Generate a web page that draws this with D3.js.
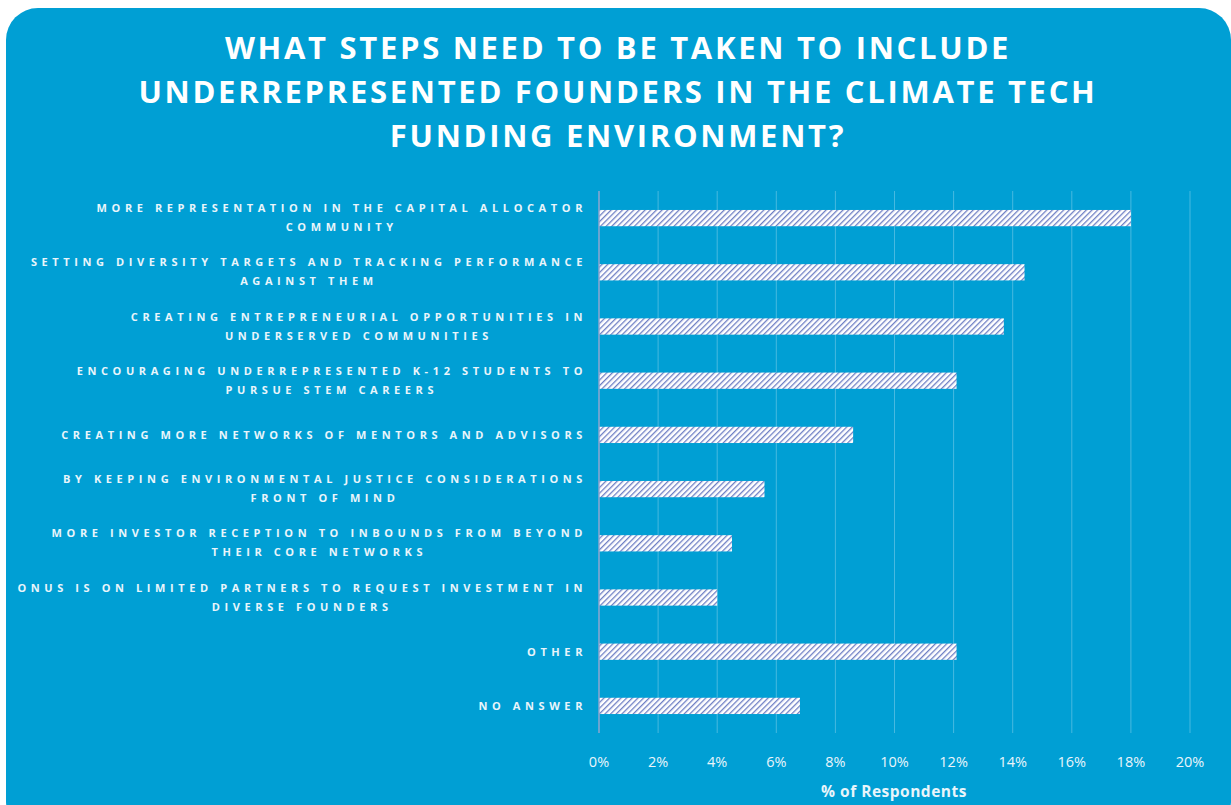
<!DOCTYPE html>
<html>
<head>
<meta charset="utf-8">
<script src="https://cdn.jsdelivr.net/npm/d3@7/dist/d3.min.js"></script>
<style>
  html, body { margin: 0; padding: 0; background: #ffffff; }
  svg { display: block; }
</style>
</head>
<body>
<svg id="chart" width="1231" height="805"></svg>
<script>
// Survey answers (top to bottom) and share of respondents, in percent
const categories = [
  ["MORE REPRESENTATION IN THE CAPITAL ALLOCATOR", "COMMUNITY"],
  ["SETTING DIVERSITY TARGETS AND TRACKING PERFORMANCE", "AGAINST THEM"],
  ["CREATING ENTREPRENEURIAL OPPORTUNITIES IN", "UNDERSERVED COMMUNITIES"],
  ["ENCOURAGING UNDERREPRESENTED K-12 STUDENTS TO", "PURSUE STEM CAREERS"],
  ["CREATING MORE NETWORKS OF MENTORS AND ADVISORS"],
  ["BY KEEPING ENVIRONMENTAL JUSTICE CONSIDERATIONS", "FRONT OF MIND"],
  ["MORE INVESTOR RECEPTION TO INBOUNDS FROM BEYOND", "THEIR CORE NETWORKS"],
  ["ONUS IS ON LIMITED PARTNERS TO REQUEST INVESTMENT IN", "DIVERSE FOUNDERS"],
  ["OTHER"],
  ["NO ANSWER"]
];
const values = [18.0, 14.4, 13.7, 12.1, 8.6, 5.6, 4.5, 4.0, 12.1, 6.8];
const tickValues = [0, 2, 4, 6, 8, 10, 12, 14, 16, 18, 20];
const titleLines = [
  "WHAT STEPS NEED TO BE TAKEN TO INCLUDE",
  "UNDERREPRESENTED FOUNDERS IN THE CLIMATE TECH",
  "FUNDING ENVIRONMENT?"
];
const axisTitle = "% of Respondents";

const svg = d3.select("#chart");
const W = 1231, H = 805;
const bg = "#009fd4";
const textCol = "#e9f5fb";

// Rounded panel
svg.append("rect")
  .attr("x", 6).attr("y", 8)
  .attr("width", W - 6).attr("height", H + 20)
  .attr("rx", 32).attr("ry", 32)
  .attr("fill", bg);

// Diagonal hatch for the bars
const defs = svg.append("defs");
const pat = defs.append("pattern")
  .attr("id", "hatch")
  .attr("patternUnits", "userSpaceOnUse")
  .attr("width", 4).attr("height", 4)
  .attr("patternTransform", "rotate(45)");
pat.append("rect").attr("width", 4).attr("height", 4).attr("fill", "#ffffff");
pat.append("rect").attr("x", 0).attr("y", 0).attr("width", 1.3).attr("height", 4).attr("fill", "#6e7fc4");

// Title
svg.append("g")
  .selectAll("text")
  .data(titleLines)
  .join("text")
  .attr("x", 618)
  .attr("y", (d, i) => 59 + i * 44)
  .attr("text-anchor", "middle")
  .attr("font-family", "'Open Sans', sans-serif")
  .attr("font-weight", 700)
  .attr("font-size", 31)
  .attr("letter-spacing", 2.7)
  .attr("fill", "#ffffff")
  .text(d => d);

// Plot area
const margin = { left: 599, right: 1190, top: 191, bottom: 733 };
const x = d3.scaleLinear().domain([0, 20]).range([margin.left, margin.right]);
const y = d3.scaleBand()
  .domain(d3.range(categories.length))
  .range([margin.top, margin.bottom])
  .paddingInner(0.7).paddingOuter(0.35);

// Vertical gridlines
svg.append("g")
  .selectAll("line")
  .data(tickValues.slice(1))
  .join("line")
  .attr("x1", d => x(d)).attr("x2", d => x(d))
  .attr("y1", margin.top).attr("y2", margin.bottom)
  .attr("stroke", "#ffffff").attr("stroke-opacity", 0.28)
  .attr("stroke-width", 1);

// Bars
svg.append("g")
  .selectAll("rect")
  .data(values)
  .join("rect")
  .attr("x", x(0))
  .attr("y", (d, i) => y(i))
  .attr("width", d => x(d) - x(0))
  .attr("height", y.bandwidth())
  .attr("fill", "url(#hatch)");

// Category axis line
svg.append("line")
  .attr("x1", x(0)).attr("x2", x(0))
  .attr("y1", margin.top).attr("y2", margin.bottom)
  .attr("stroke", "#8ea6cf").attr("stroke-width", 1.5);

// Category labels, right-aligned against the axis
const labelRight = 587;
const lab = svg.append("g")
  .selectAll("text")
  .data(categories)
  .join("text")
  .attr("text-anchor", "end")
  .attr("font-family", "'Open Sans', sans-serif")
  .attr("font-weight", 700)
  .attr("font-size", 11)
  .attr("letter-spacing", 4.6)
  .attr("fill", textCol);
lab.each(function(lines, i) {
  const cy = y(i) + y.bandwidth() / 2;
  const t = d3.select(this);
  lines.forEach((ln, j) => {
    const yy = lines.length === 1 ? cy + 4 : cy - 6 + j * 19;
    t.append("tspan")
      .attr("x", labelRight)
      .attr("y", yy)
      .text(ln);
  });
});
// Second lines are centred under the first line
lab.each(function(lines) {
  if (lines.length < 2) return;
  const spans = d3.select(this).selectAll("tspan").nodes();
  const w0 = spans[0].getComputedTextLength();
  const center = labelRight - w0 / 2;
  d3.select(spans[1]).attr("x", center).attr("text-anchor", "middle");
});

// Value axis tick labels
svg.append("g")
  .selectAll("text")
  .data(tickValues)
  .join("text")
  .attr("x", d => x(d))
  .attr("y", 767)
  .attr("text-anchor", "middle")
  .attr("font-family", "'Open Sans', sans-serif")
  .attr("font-size", 14.5)
  .attr("fill", textCol)
  .text(d => d + "%");

// Axis title
svg.append("text")
  .attr("x", 894).attr("y", 797)
  .attr("text-anchor", "middle")
  .attr("font-family", "'Open Sans', sans-serif")
  .attr("font-weight", 700)
  .attr("font-size", 15.5)
  .attr("letter-spacing", 0.5)
  .attr("fill", textCol)
  .text(axisTitle);
</script>
</body>
</html>
